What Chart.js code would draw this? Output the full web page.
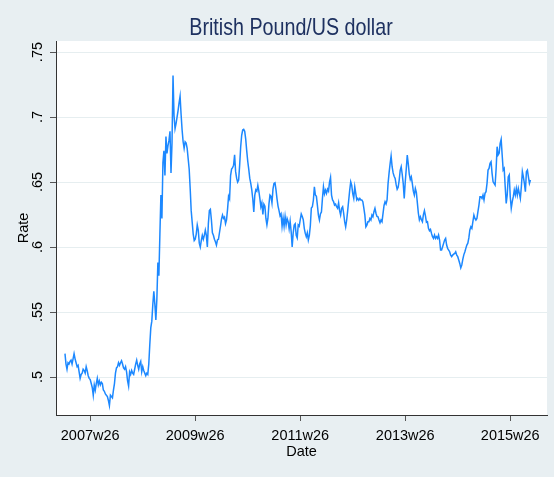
<!DOCTYPE html>
<html lang="en">
<head>
    <meta charset="UTF-8">
    <title>British Pound/US dollar</title>
    <script src="https://cdn.jsdelivr.net/npm/chart.js"></script>
    <style>
        html, body {
            margin: 0;
            padding: 0;
            background: #e8eff2;
        }
        #chart {
            display: block;
        }
    </style>
</head>
<body>
    <canvas id="chart" width="554" height="477"></canvas>
    <script>
        // weekly GBP per USD, 52 weeks a year (Stata weekly dates), 2007w1 .. 2015w46
        var r2007 = [.518, .510, .506, .511, .510, .512, .513, .510, .514, .518, .514, .511, .508,
            .509, .504, .499, .502, .503, .506, .505, .503, .508, .505, .501, .499, .498,
            .495, .492, .486, .494, .490, .495, .499, .494, .497, .494, .496, .495, .490,
            .489, .487, .486, .485, .482, .478, .486, .485, .484, .490, .495, .503, .507];
        var r2008 = [.508, .511, .509, .511, .5125, .510, .507, .506, .508, .504, .497, .493, .504,
            .502, .505, .503, .502, .506, .510, .513, .509, .506, .510, .512, .504, .508,
            .505, .503, .501, .503, .502, .510, .525, .538, .543, .556, .566, .556, .544,
            .560, .588, .578, .610, .640, .622, .665, .674, .655, .685, .672, .678, .682];
        var r2009 = [.689, .657, .680, .732, .701, .691, .695, .700, .705, .711, .716, .702, .690,
            .681, .676, .681, .680, .676, .668, .660, .645, .628, .619, .610, .605, .606,
            .610, .617, .613, .603, .600, .605, .609, .606, .609, .613, .609, .600, .618,
            .628, .629, .621, .611, .609, .606, .604, .6015, .6055, .606, .611, .616, .6215];
        var r2010 = [.6246, .622, .623, .618, .621, .629, .639, .637, .655, .660, .661, .663, .671,
            .658, .653, .650, .6515, .663, .677, .686, .690, .6905, .689, .683, .674, .666,
            .660, .653, .649, .644, .637, .627, .640, .644, .643, .6475, .643, .6375, .631,
            .634, .625, .633, .6315, .622, .617, .622, .633, .640, .639, .634, .6445, .649];
        var r2011 = [.6495, .644, .637, .6315, .628, .624, .6255, .616, .6225, .616, .6235, .617, .622,
            .6195, .614, .620, .612, .600, .6105, .617, .618, .609, .607, .617, .616, .621,
            .6254, .6235, .621, .6144, .6105, .608, .611, .6054, .609, .6165, .630, .631, .636,
            .6464, .640, .639, .632, .6245, .6208, .6255, .627, .6374, .6464, .641, .6438, .6413];
        var r2012 = [.6445, .643, .650, .6536, .640, .6362, .6349, .6323, .633, .631, .6298, .634, .628,
            .6246, .6298, .631, .626, .6195, .6156, .6208, .628, .636, .6438, .6502, .6475, .641,
            .6375, .6464, .6413, .6362, .6374, .636, .6374, .6362, .6362, .6349, .630, .6246, .6156,
            .6169, .6195, .6195, .622, .6208, .6246, .6233, .6272, .6298, .626, .6236, .6233, .6208];
        var r2013 = [.6187, .6208, .6195, .6259, .632, .6349, .6331, .6362, .649, .657, .664, .670, .6618,
            .657, .6545, .6528, .648, .6445, .646, .6515, .659, .6618, .656, .649, .6374, .650,
            .660, .6708, .664, .656, .652, .654, .649, .643, .640, .645, .642, .634, .626,
            .621, .6233, .621, .6195, .625, .628, .624, .619, .6195, .6144, .6126, .6136, .6105];
        var r2014 = [.608, .6067, .6092, .6067, .608, .6067, .6092, .6054, .5977, .5977, .6002, .6028, .6054,
            .6067, .6015, .599, .5977, .5964, .5938, .5926, .5938, .5945, .5951, .5964, .5938, .5926,
            .590, .5874, .584, .5862, .5905, .594, .5962, .599, .6015, .603, .607, .6131, .6156,
            .6144, .6195, .6246, .622, .6208, .622, .6272, .6323, .6387, .6387, .6374, .640, .6362];
        var r2015 = [.6413, .6426, .649, .6592, .6605, .6644, .6656, .6567, .6502, .649, .6477, .660, .6772,
            .6708, .6721, .6797, .6828, .6708, .6592, .6605, .6464, .6336, .640, .654, .6555, .6387,
            .6298, .6349, .6387, .6438, .640, .6451, .640, .6451, .6413, .6374, .6464, .658, .654,
            .649, .6426, .658, .6592, .654, .649, .6515];

        var years = [2007, 2008, 2009, 2010, 2011, 2012, 2013, 2014, 2015];
        var rates = [r2007, r2008, r2009, r2010, r2011, r2012, r2013, r2014, r2015];

        var xTickLabels = ['2007w26', '2009w26', '2011w26', '2013w26', '2015w26'];
        var yTickValues = [.5, .55, .6, .65, .7, .75];
        var yTickLabels = ['.5', '.55', '.6', '.65', '.7', '.75'];

        // week number counted from 2007w1
        function weekIndex(year, week) {
            return (year - 2007) * 52 + (week - 1);
        }
        function labelIndex(lbl) {
            var parts = lbl.split('w');
            return weekIndex(+parts[0], +parts[1]);
        }

        var points = [];
        years.forEach(function(yr, k) {
            rates[k].forEach(function(v, w) {
                points.push({x: weekIndex(yr, w + 1), y: v});
            });
        });
        var xTickValues = xTickLabels.map(labelIndex);

        var fontFamily = "'Liberation Sans Narrow', 'Arial Narrow', 'Liberation Sans', Arial, sans-serif";
        Chart.defaults.font.family = fontFamily;
        Chart.defaults.color = '#000';

        var plotBg = {
            id: 'plotBg',
            beforeDraw: function(chart) {
                var ctx = chart.ctx, a = chart.chartArea;
                ctx.save();
                ctx.fillStyle = '#e8eff2';
                ctx.fillRect(0, 0, chart.width, chart.height);
                ctx.fillStyle = '#ffffff';
                ctx.fillRect(a.left, a.top, a.right - a.left, a.bottom - a.top);
                ctx.restore();
            },
            afterDraw: function(chart) {
                // title in a narrowed face, like the Stata export
                var ctx = chart.ctx;
                ctx.save();
                ctx.font = '24px ' + fontFamily;
                ctx.fillStyle = '#1e3160';
                ctx.textAlign = 'center';
                ctx.textBaseline = 'alphabetic';
                ctx.translate(291, 35);
                ctx.scale(0.82, 1);
                ctx.fillText('British Pound/US dollar', 0, 0);
                ctx.restore();
            }
        };

        var ctx = document.getElementById('chart').getContext('2d');
        var chart = new Chart(ctx, {
            type: 'line',
            data: {
                datasets: [{
                    label: 'Rate',
                    data: points,
                    borderColor: '#1c88ff',
                    borderWidth: 1.5,
                    pointRadius: 0,
                    tension: 0,
                    fill: false
                }]
            },
            plugins: [plotBg],
            options: {
                responsive: false,
                animation: false,
                devicePixelRatio: 1,
                layout: {
                    padding: {top: 41, right: 7, bottom: 0, left: 0}
                },
                plugins: {
                    legend: {display: false},
                    tooltip: {enabled: false}
                },
                scales: {
                    x: {
                        type: 'linear',
                        min: -8.9,
                        max: 477.4,
                        afterBuildTicks: function(scale) {
                            scale.ticks = xTickValues.map(function(v) { return {value: v}; });
                        },
                        afterFit: function(scale) {
                            scale.height = 62;
                            scale.paddingLeft = 0;
                            scale.paddingRight = 0;
                        },
                        ticks: {
                            autoSkip: false,
                            maxRotation: 0,
                            padding: 6,
                            font: {size: 14.5},
                            color: '#000',
                            callback: function(value) {
                                var k = xTickValues.indexOf(value);
                                return k >= 0 ? xTickLabels[k] : '';
                            }
                        },
                        grid: {
                            drawOnChartArea: false,
                            tickLength: 6,
                            tickColor: '#555'
                        },
                        border: {display: true, color: '#333', width: 1},
                        title: {
                            display: true,
                            text: 'Date',
                            font: {size: 14.5},
                            color: '#000',
                            padding: {top: 0, bottom: 16}
                        }
                    },
                    y: {
                        type: 'linear',
                        min: .4708,
                        max: .7585,
                        afterBuildTicks: function(scale) {
                            scale.ticks = yTickValues.map(function(v) { return {value: v}; });
                        },
                        afterFit: function(scale) {
                            scale.width = 56;
                            scale.paddingTop = 0;
                            scale.paddingBottom = 0;
                        },
                        ticks: {
                            minRotation: 90,
                            maxRotation: 90,
                            crossAlign: 'center',
                            padding: 2,
                            font: {size: 14.5},
                            color: '#000',
                            callback: function(value) {
                                var k = yTickValues.indexOf(value);
                                return k >= 0 ? yTickLabels[k] : '';
                            }
                        },
                        grid: {
                            color: '#e6eef0',
                            lineWidth: 1,
                            tickLength: 6,
                            tickColor: '#555'
                        },
                        border: {display: true, color: '#333', width: 1},
                        title: {
                            display: true,
                            text: 'Rate',
                            font: {size: 14.5},
                            color: '#000',
                            padding: {top: 15, bottom: 0}
                        }
                    }
                }
            }
        });
    </script>
</body>
</html>
